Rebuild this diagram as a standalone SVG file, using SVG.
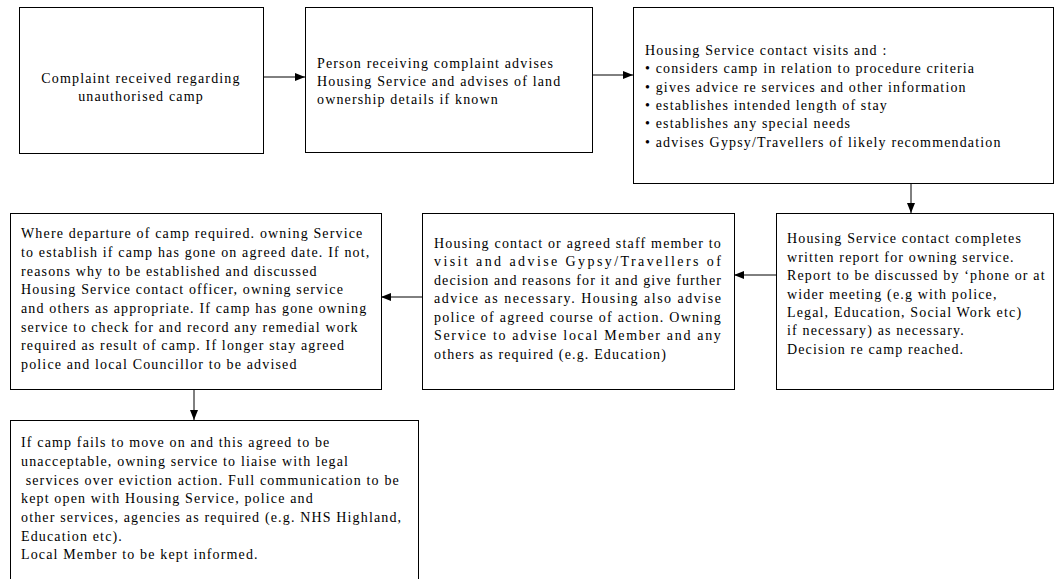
<svg xmlns="http://www.w3.org/2000/svg" width="1054" height="579" viewBox="0 0 1054 579">
<defs>
<style>
.box{fill:#fff;stroke:#000;stroke-width:1}
.t{font-family:"Liberation Serif","Times New Roman",serif;font-size:14px;letter-spacing:1.15px;fill:#000}
.c{stroke:#000;stroke-width:1;fill:none}
</style>
<marker id="ah" markerWidth="10" markerHeight="8" refX="10" refY="4" orient="auto" markerUnits="userSpaceOnUse">
<path d="M0,0 L10,4 L0,8 Z" fill="#000"/>
</marker>
</defs>
<rect width="1054" height="579" fill="#fff"/>
<g id="connectors">
<line class="c" x1="263" y1="77" x2="305" y2="77" marker-end="url(#ah)"/>
<line class="c" x1="592" y1="75" x2="633" y2="75" marker-end="url(#ah)"/>
<line class="c" x1="911" y1="183" x2="911" y2="213" marker-end="url(#ah)"/>
<line class="c" x1="776" y1="275" x2="734" y2="275" marker-end="url(#ah)"/>
<line class="c" x1="422" y1="297" x2="381" y2="297" marker-end="url(#ah)"/>
<line class="c" x1="194" y1="389" x2="194" y2="420" marker-end="url(#ah)"/>
</g>
<g id="n1">
<rect class="box" x="19.5" y="7.5" width="244" height="146"/>
<text class="t" text-anchor="middle"><tspan x="141" y="83">Complaint received regarding</tspan><tspan x="141" y="101">unauthorised camp</tspan></text>
</g>
<g id="n2">
<rect class="box" x="305.5" y="7.5" width="287" height="145"/>
<text class="t"><tspan x="317" y="68">Person receiving complaint advises</tspan><tspan x="317" y="86">Housing Service and advises of land</tspan><tspan x="317" y="104">ownership details if known</tspan></text>
</g>
<g id="n3">
<rect class="box" x="633.5" y="7.5" width="420" height="176"/>
<text class="t"><tspan x="645" y="55">Housing Service contact visits and :</tspan><tspan x="645" y="73">• considers camp in relation to procedure criteria</tspan><tspan x="645" y="92">• gives advice re services  and other information</tspan><tspan x="645" y="110">• establishes intended length of stay</tspan><tspan x="645" y="128">• establishes any special needs</tspan><tspan x="645" y="147">• advises Gypsy/Travellers of likely recommendation</tspan></text>
</g>
<g id="n6">
<rect class="box" x="776.5" y="213.5" width="277" height="176"/>
<text class="t"><tspan x="787" y="243">Housing Service contact completes</tspan><tspan x="787" y="262">written report for owning service.</tspan><tspan x="787" y="280">Report to be discussed by ‘phone or at</tspan><tspan x="787" y="299">wider meeting (e.g with police,</tspan><tspan x="787" y="317">Legal, Education, Social Work etc)</tspan><tspan x="787" y="335">if necessary) as necessary.</tspan><tspan x="787" y="354">Decision re camp reached.</tspan></text>
</g>
<g id="n5">
<rect class="box" x="422.5" y="213.5" width="312" height="176"/>
<text class="t"><tspan x="434" y="248" textLength="288" lengthAdjust="spacing">Housing contact or agreed staff member to</tspan><tspan x="434" y="266" textLength="288" lengthAdjust="spacing">visit and advise Gypsy/Travellers of</tspan><tspan x="434" y="285" textLength="288" lengthAdjust="spacing">decision and reasons for it and give further</tspan><tspan x="434" y="303" textLength="288" lengthAdjust="spacing">advice as  necessary. Housing also advise</tspan><tspan x="434" y="322" textLength="288" lengthAdjust="spacing">police of agreed course of action.  Owning</tspan><tspan x="434" y="340" textLength="288" lengthAdjust="spacing">Service to advise local Member and any</tspan><tspan x="434" y="359">others as required (e.g. Education)</tspan></text>
</g>
<g id="n4">
<rect class="box" x="10.5" y="213.5" width="371" height="176"/>
<text class="t"><tspan x="21" y="238">Where departure of camp required. owning Service</tspan><tspan x="21" y="257">to establish if camp has gone on agreed date. If not,</tspan><tspan x="21" y="276">reasons why to be established and discussed</tspan><tspan x="21" y="294">Housing Service contact officer, owning service</tspan><tspan x="21" y="313">and others as appropriate. If camp has gone owning</tspan><tspan x="21" y="332">service to check for and record any remedial work</tspan><tspan x="21" y="350">required as result of camp. If longer stay agreed</tspan><tspan x="21" y="369">police and local Councillor to be advised</tspan></text>
</g>
<g id="n7">
<rect class="box" x="10.5" y="420.5" width="408" height="170"/>
<text class="t"><tspan x="21" y="447">If camp fails to move on and this agreed to be</tspan><tspan x="21" y="466">unacceptable, owning service to liaise with legal</tspan><tspan x="21" y="485"> services over eviction action. Full communication to be</tspan><tspan x="21" y="503">kept open with Housing Service, police and</tspan><tspan x="21" y="522">other services, agencies as required (e.g. NHS Highland,</tspan><tspan x="21" y="541">Education etc).</tspan><tspan x="21" y="559">Local Member to be kept informed.</tspan></text>
</g>
</svg>
